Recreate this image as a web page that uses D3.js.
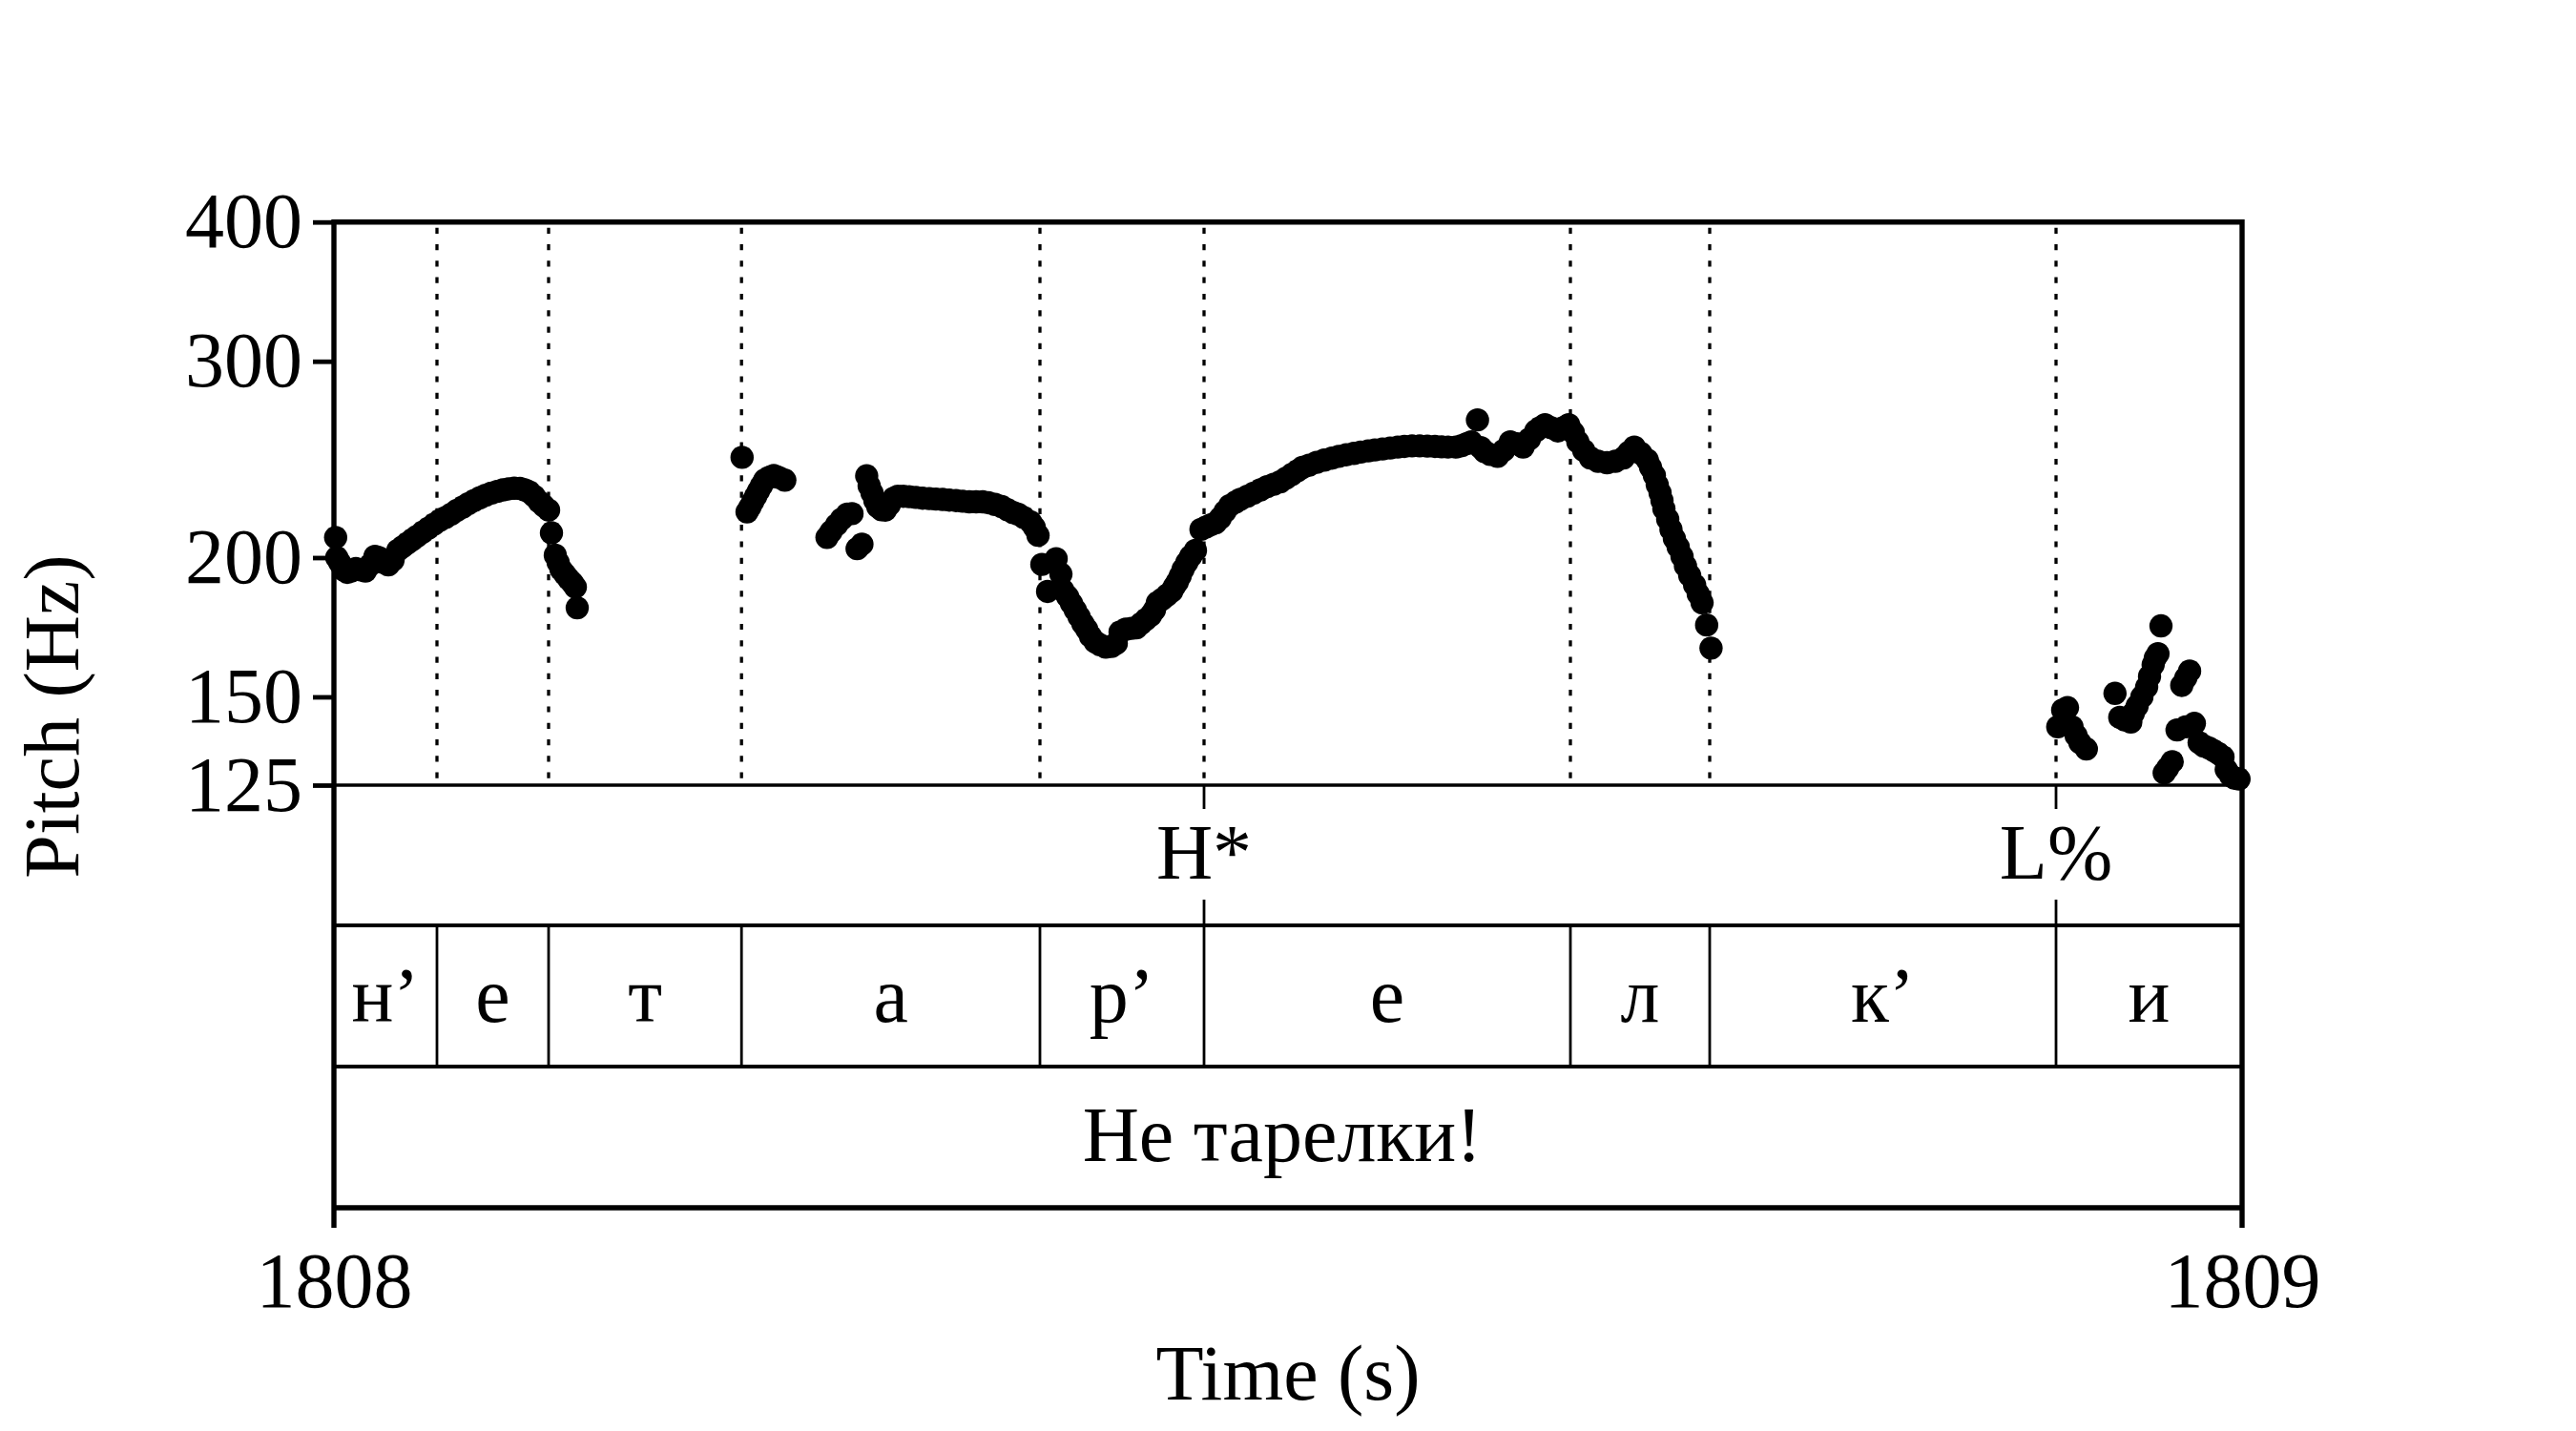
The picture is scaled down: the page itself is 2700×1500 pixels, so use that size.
<!DOCTYPE html>
<html>
<head>
<meta charset="utf-8">
<script src="https://cdn.jsdelivr.net/npm/d3@7"></script>
<style>
  html, body { margin: 0; padding: 0; background: #ffffff; }
  svg { display: block; }
  text { font-family: "Liberation Serif", "Times New Roman", serif; fill: #000; }
</style>
</head>
<body>
<svg id="chart" width="2700" height="1500"></svg>
<script>
// ---------------- data ----------------
const timeStart = 1808;
const timeEnd = 1809;
const pitchMin = 125;
const pitchMax = 400;
const yTickValues = [125, 150, 200, 300, 400];
const xTickValues = [1808, 1809];

// pitch track: [seconds after 1808, Hz]
const pitchPoints = [
  [0.0009,208.5],[0.0015,200],[0.003,198],[0.005,195],[0.007,194],[0.009,194.5],[0.0115,195.5],
  [0.014,195],[0.0165,194.5],[0.019,197],[0.0215,200.5],[0.0235,200],[0.026,198],[0.0285,197],
  [0.031,199],[0.0335,203],[0.036,204.5],[0.0385,206],[0.041,207.5],[0.0435,209],[0.0465,210.8],
  [0.0495,212.5],[0.0525,214.3],[0.0555,216],[0.0585,217.3],[0.0615,218.8],[0.0645,220.5],
  [0.0675,222],[0.0705,223.6],[0.0735,225],[0.0765,226.3],[0.0795,227.5],[0.0825,228.5],
  [0.0855,229.3],[0.0885,230],[0.0915,230.5],[0.0945,230.8],[0.0975,230.7],[0.1,230],
  [0.1025,229],[0.105,227],[0.1075,224.5],[0.11,222.5],[0.1125,220.6],[0.114,210.5],[0.116,201],
  [0.1175,198],[0.119,195.2],[0.121,193.3],[0.123,191.4],[0.125,189.8],[0.1265,188.2],[0.1275,180.3],

  [0.2139,246],[0.2165,219.8],[0.218,222],[0.2195,224.5],[0.221,227],[0.2225,229.5],[0.224,232],
  [0.2257,234.7],[0.228,236],[0.2305,237],[0.233,236],[0.2363,234.7],

  [0.2584,208.5],[0.2605,211],[0.2634,214],[0.266,216.5],[0.269,218.8],[0.2715,219],
  [0.2742,203.7],[0.2767,205.6],
  [0.2792,236.8],[0.2805,232],[0.282,228.6],[0.2835,225],[0.285,222.2],[0.287,220.8],[0.289,220.6],
  [0.291,223],[0.2934,226.1],[0.2955,227],[0.2984,227],[0.3015,226.8],[0.305,226.5],[0.3085,226.1],
  [0.312,225.9],[0.3155,225.7],[0.319,225.5],[0.3225,225.2],[0.326,225],[0.3295,224.7],[0.333,224.4],
  [0.3365,224.4],[0.34,224.4],[0.343,224],[0.3465,223.2],[0.35,222.2],[0.353,220.8],[0.356,219.5],
  [0.3585,218.8],[0.3615,217.3],[0.365,215.4],[0.367,213],[0.369,209.4],[0.371,197.2],[0.374,186.5],
  [0.3785,199.5],[0.381,193.3],[0.382,187],[0.3845,184.5],[0.3865,182],[0.3885,179.5],[0.3905,177],
  [0.3925,174.5],[0.3945,172.5],[0.3965,170],[0.399,168],[0.4015,167],[0.4045,166.2],[0.4075,166.5],
  [0.41,167.5],[0.412,171.5],[0.415,172.5],[0.418,172.8],[0.4205,173],[0.423,174.5],[0.4255,176],
  [0.428,177.5],[0.43,179.5],[0.4315,182.2],[0.434,183.5],[0.4365,185],[0.439,186.5],[0.4405,188.5],
  [0.442,190.2],[0.4435,192.5],[0.445,195.2],[0.447,198],[0.449,200.5],[0.4515,203],[0.4544,212],
  [0.457,213],[0.4595,214],[0.462,214.8],[0.4645,217],[0.467,220],[0.4695,222.7],[0.4725,224.3],
  [0.475,225.6],[0.4787,227],[0.482,228.5],[0.4855,230],[0.489,231.5],[0.4925,232.7],[0.4959,233.9],
  [0.499,235.7],[0.502,237.5],[0.505,239.3],[0.5075,240.9],[0.511,242],[0.515,243.5],[0.519,244.6],
  [0.523,245.6],[0.5265,246.5],[0.5305,247.3],[0.5345,248],[0.538,248.7],[0.542,249.3],[0.5455,249.8],
  [0.5495,250.3],[0.5535,250.8],[0.5575,251.3],[0.561,251.6],[0.565,251.9],[0.569,251.9],[0.573,251.8],
  [0.577,251.6],[0.5805,251.4],[0.584,251.3],[0.588,251.3],[0.591,252],[0.5935,253],[0.596,254],
  [0.5993,265.8],[0.601,251],[0.603,249],[0.606,247.5],[0.6098,246.5],[0.613,249.5],[0.6165,254],
  [0.62,253],[0.6232,251.3],[0.6265,255.5],[0.6299,259.8],[0.632,261.5],[0.6347,263.2],[0.638,261.5],
  [0.6414,259.8],[0.644,261.5],[0.6471,263.2],[0.6495,259],[0.6519,254],[0.655,249.5],[0.6585,245.7],
  [0.6625,244],[0.6672,243.3],[0.6715,244],[0.6758,245.7],[0.6785,248.5],[0.6815,251.3],[0.685,248],
  [0.6883,244.7],[0.69,241],[0.692,237],[0.6935,232.5],[0.695,228.6],[0.696,225],[0.697,221.2],
  [0.699,216.5],[0.7007,212],[0.7025,208],[0.7045,204.4],[0.7065,200.5],[0.7083,196.6],[0.7105,192.8],
  [0.7131,189],[0.715,185.5],[0.717,182.2],[0.7194,174],[0.7217,165.9],

  [0.9034,141],[0.906,146],[0.9085,146.7],[0.9109,141],[0.913,138.5],[0.915,136.5],[0.9184,134.7],
  [0.9334,151.1],[0.9359,143.8],[0.9385,143],[0.9417,142.4],[0.943,145],[0.945,147.2],[0.9475,150],
  [0.95,153.1],[0.9515,156.5],[0.9534,160.3],[0.9545,162.5],[0.9559,164],[0.9575,173.7],
  [0.9592,128.2],[0.961,129.5],[0.9634,131.2],[0.9659,140.1],[0.9684,153.6],[0.9705,156],[0.9725,158.2],
  [0.9705,141],[0.975,142],[0.9775,136.5],[0.98,135.5],[0.9825,135],[0.985,134.3],[0.9875,133.5],
  [0.99,132.5],[0.9917,129.1],[0.994,127.5],[0.996,126.8],[0.9984,126.6]
];

// tier 1: tones (point tier), seconds after 1808
const toneTimes = [0.456, 0.9025];
const toneLabels = ["H*", "L%"];

// tier 2: segments (interval tier), inner boundaries, seconds after 1808
const segmentBounds = [0.054, 0.1125, 0.2136, 0.370, 0.456, 0.648, 0.721, 0.9025];
const segmentLabels = ["н’", "е", "т", "а", "р’", "е", "л", "к’", "и"];

// tier 3: words
const wordLabels = ["Не тарелки!"];

// ---------------- layout ----------------
const L = 350, R = 2350, TOP = 232.7, PB = 823;
const T1B = 970, T2B = 1118, T3B = 1266;
const FS = 82;

const svg = d3.select("#chart");
svg.append("rect").attr("width", 2700).attr("height", 1500).attr("fill", "#fff");

const x = d3.scaleLinear().domain([timeStart, timeEnd]).range([L, R]);
const y = d3.scaleLog().domain([pitchMin, pitchMax]).range([PB, TOP]);

// dotted segment boundaries in pitch area
svg.append("g").selectAll("line").data(segmentBounds).join("line")
  .attr("x1", d => x(timeStart + d)).attr("x2", d => x(timeStart + d))
  .attr("y1", TOP + 6).attr("y2", PB)
  .attr("stroke", "#000").attr("stroke-width", 3.3)
  .attr("stroke-dasharray", "6.2 11.1");

// pitch dots
svg.append("g").selectAll("circle").data(pitchPoints).join("circle")
  .attr("cx", d => x(timeStart + d[0]))
  .attr("cy", d => y(d[1]))
  .attr("r", 12.2)
  .attr("fill", "#000");

// horizontal tier lines
const hl = (yy, w) => svg.append("line").attr("x1", L).attr("x2", R)
  .attr("y1", yy).attr("y2", yy).attr("stroke", "#000").attr("stroke-width", w);
hl(PB, 3.4);
hl(T1B, 3.8);
hl(T2B, 3.8);
hl(T3B, 5.4);
hl(TOP, 5.4);

// segment interval boundaries
svg.append("g").selectAll("line").data(segmentBounds).join("line")
  .attr("x1", d => x(timeStart + d)).attr("x2", d => x(timeStart + d))
  .attr("y1", T1B).attr("y2", T2B)
  .attr("stroke", "#000").attr("stroke-width", 2.8);

// tone point ticks
const toneG = svg.append("g");
toneG.selectAll("line.top").data(toneTimes).join("line").attr("class", "top")
  .attr("x1", d => x(timeStart + d)).attr("x2", d => x(timeStart + d))
  .attr("y1", PB).attr("y2", PB + 25)
  .attr("stroke", "#000").attr("stroke-width", 2.8);
toneG.selectAll("line.bot").data(toneTimes).join("line").attr("class", "bot")
  .attr("x1", d => x(timeStart + d)).attr("x2", d => x(timeStart + d))
  .attr("y1", T1B - 27).attr("y2", T1B)
  .attr("stroke", "#000").attr("stroke-width", 2.8);
toneG.selectAll("text").data(toneTimes).join("text")
  .attr("x", d => x(timeStart + d)).attr("y", 921)
  .attr("text-anchor", "middle").attr("font-size", FS)
  .text((d, i) => toneLabels[i]);

// segment labels
const edges = [0, ...segmentBounds, 1];
svg.append("g").selectAll("text").data(segmentLabels).join("text")
  .attr("x", (d, i) => x(timeStart + (edges[i] + edges[i + 1]) / 2))
  .attr("y", 1071)
  .attr("text-anchor", "middle").attr("font-size", FS)
  .text(d => d);

// word label
svg.append("g").selectAll("text").data(wordLabels).join("text")
  .attr("x", x(timeStart + 0.497)).attr("y", 1217)
  .attr("text-anchor", "middle").attr("font-size", FS)
  .text(d => d);

// frame verticals (extend below as x ticks)
[L, R].forEach(xx => svg.append("line").attr("x1", xx).attr("x2", xx)
  .attr("y1", TOP - 2.7).attr("y2", 1287)
  .attr("stroke", "#000").attr("stroke-width", 5.4));

// y axis
const yAxis = d3.axisLeft(y).tickValues(yTickValues).tickFormat(d3.format("d"))
  .tickSize(22).tickPadding(11);
const gy = svg.append("g").attr("transform", `translate(${L},0)`).call(yAxis);
gy.select(".domain").remove();
gy.selectAll(".tick line").attr("stroke", "#000").attr("stroke-width", 4.8);
gy.selectAll(".tick text").attr("font-size", FS)
  .attr("font-family", "'Liberation Serif', 'Times New Roman', serif").attr("fill", "#000");

// x axis
const xAxis = d3.axisBottom(x).tickValues(xTickValues).tickFormat(d3.format("d"))
  .tickSize(0).tickPadding(46);
const gx = svg.append("g").attr("transform", `translate(0,${T3B})`).call(xAxis);
gx.select(".domain").remove();
gx.selectAll(".tick text").attr("font-size", FS)
  .attr("font-family", "'Liberation Serif', 'Times New Roman', serif").attr("fill", "#000");

// axis titles
svg.append("text").attr("x", 1350).attr("y", 1467)
  .attr("text-anchor", "middle").attr("font-size", FS).text("Time (s)");
svg.append("text").attr("transform", "translate(82,751) rotate(-90)")
  .attr("text-anchor", "middle").attr("font-size", FS).text("Pitch (Hz)");
</script>
</body>
</html>
